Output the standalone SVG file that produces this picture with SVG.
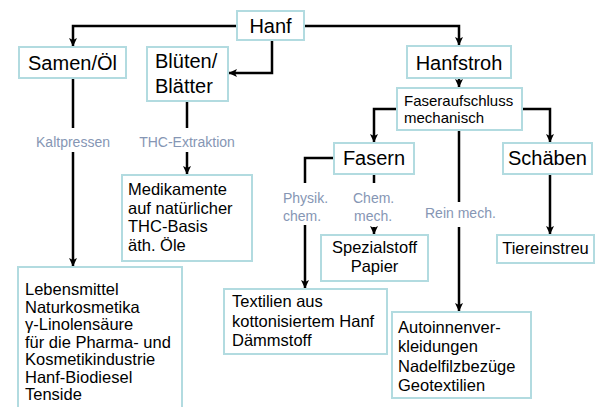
<svg xmlns="http://www.w3.org/2000/svg" width="598" height="407" viewBox="0 0 598 407">
<style>
.box{fill:#fff;stroke:#b2dbe0;stroke-width:2}
.t{font-family:"Liberation Sans",Arial,sans-serif;fill:#000}
.h{font-size:20px}
.b{font-size:16.5px}
.s{font-size:15px}
.lbl{font-family:"Liberation Sans",Arial,sans-serif;font-size:14px;fill:#8696b4}
.c{fill:none;stroke:#000;stroke-width:2.5}
</style>
<defs>
<marker id="ar" markerUnits="userSpaceOnUse" markerWidth="9" markerHeight="9" viewBox="0 0 9 9" refX="8" refY="4.5" orient="auto">
<path d="M0,0.5 L8.5,4.5 L0,8.5 L2,4.5 z" fill="#000"/>
</marker>
</defs>
<rect width="598" height="407" fill="#fff"/>
<g id="connectors">
<path class="c" d="M237,26 H73 V46" marker-end="url(#ar)"/>
<path class="c" d="M272,40 V73 H229" marker-end="url(#ar)"/>
<path class="c" d="M304,26 H459 V45" marker-end="url(#ar)"/>
<path class="c" d="M459,78 V87" marker-end="url(#ar)"/>
<path class="c" d="M397,109 H374 V142" marker-end="url(#ar)"/>
<path class="c" d="M522,109 H550 V142" marker-end="url(#ar)"/>
<path class="c" d="M459,130 V202"/>
<path class="c" d="M459,227 V311" marker-end="url(#ar)"/>
<path class="c" d="M334,158 H305 V183"/>
<path class="c" d="M305,225 V288" marker-end="url(#ar)"/>
<path class="c" d="M374,174 V183"/>
<path class="c" d="M374,227 V234" marker-end="url(#ar)"/>
<path class="c" d="M550,174 V234" marker-end="url(#ar)"/>
<path class="c" d="M73,78 V128"/>
<path class="c" d="M73,152 V266" marker-end="url(#ar)"/>
<path class="c" d="M187,101 V128"/>
<path class="c" d="M187,152 V174" marker-end="url(#ar)"/>
</g>
<g id="labels">
<text class="lbl" x="73" y="147" text-anchor="middle">Kaltpressen</text>
<text class="lbl" x="187" y="147" text-anchor="middle">THC-Extraktion</text>
<text class="lbl" x="283" y="203">Physik.</text>
<text class="lbl" x="283" y="221">chem.</text>
<text class="lbl" x="353" y="203">Chem.</text>
<text class="lbl" x="354" y="221">mech.</text>
<text class="lbl" x="425" y="218">Rein mech.</text>
</g>
<g id="hanf">
<rect class="box" x="237" y="11" width="67" height="29"/>
<text class="t h" x="270.5" y="33" text-anchor="middle">Hanf</text>
</g>
<g id="samen">
<rect class="box" x="19" y="47" width="107" height="31"/>
<text class="t h" x="72.5" y="70" text-anchor="middle">Samen/Öl</text>
</g>
<g id="blueten">
<rect class="box" x="147" y="47" width="81" height="54"/>
<text class="t h" x="155" y="68">Blüten/</text>
<text class="t h" x="155" y="93">Blätter</text>
</g>
<g id="hanfstroh">
<rect class="box" x="407" y="46" width="104" height="32"/>
<text class="t h" x="459" y="70" text-anchor="middle">Hanfstroh</text>
</g>
<g id="faseraufschluss">
<rect class="box" x="397" y="88" width="125" height="42"/>
<text class="t s" x="404" y="106">Faseraufschluss</text>
<text class="t s" x="404" y="123">mechanisch</text>
</g>
<g id="fasern">
<rect class="box" x="334" y="143" width="80" height="31"/>
<text class="t h" x="374" y="165" text-anchor="middle">Fasern</text>
</g>
<g id="schaeben">
<rect class="box" x="503" y="143" width="89" height="31"/>
<text class="t h" x="547.5" y="165" text-anchor="middle">Schäben</text>
</g>
<g id="medikamente">
<rect class="box" x="122" y="175" width="130" height="86"/>
<text class="t b" x="128" y="195">Medikamente</text>
<text class="t b" x="128" y="213.5">auf natürlicher</text>
<text class="t b" x="128" y="232">THC-Basis</text>
<text class="t b" x="128" y="250.5">äth. Öle</text>
</g>
<g id="spezialstoff">
<rect class="box" x="321" y="235" width="107" height="46"/>
<text class="t b" x="374.5" y="253" text-anchor="middle">Spezialstoff</text>
<text class="t b" x="374.5" y="272" text-anchor="middle">Papier</text>
</g>
<g id="tiereinstreu">
<rect class="box" x="497" y="235" width="97" height="28"/>
<text class="t b" x="545.5" y="254" text-anchor="middle">Tiereinstreu</text>
</g>
<g id="lebensmittel">
<rect class="box" x="18" y="267" width="164" height="150"/>
<text class="t b" x="25" y="295">Lebensmittel</text>
<text class="t b" x="25" y="312.5">Naturkosmetika</text>
<text class="t b" x="25" y="330">γ-Linolensäure</text>
<text class="t b" x="25" y="347.5">für die Pharma- und</text>
<text class="t b" x="25" y="365">Kosmetikindustrie</text>
<text class="t b" x="25" y="382.5">Hanf-Biodiesel</text>
<text class="t b" x="25" y="400">Tenside</text>
</g>
<g id="textilien">
<rect class="box" x="224" y="289" width="163" height="65"/>
<text class="t b" x="232" y="307">Textilien aus</text>
<text class="t b" x="232" y="327">kottonisiertem Hanf</text>
<text class="t b" x="232" y="346">Dämmstoff</text>
</g>
<g id="autoinnen">
<rect class="box" x="392" y="312" width="139" height="86"/>
<text class="t b" x="398" y="333">Autoinnenver-</text>
<text class="t b" x="398" y="352">kleidungen</text>
<text class="t b" x="398" y="372">Nadelfilzbezüge</text>
<text class="t b" x="398" y="391">Geotextilien</text>
</g>
</svg>
